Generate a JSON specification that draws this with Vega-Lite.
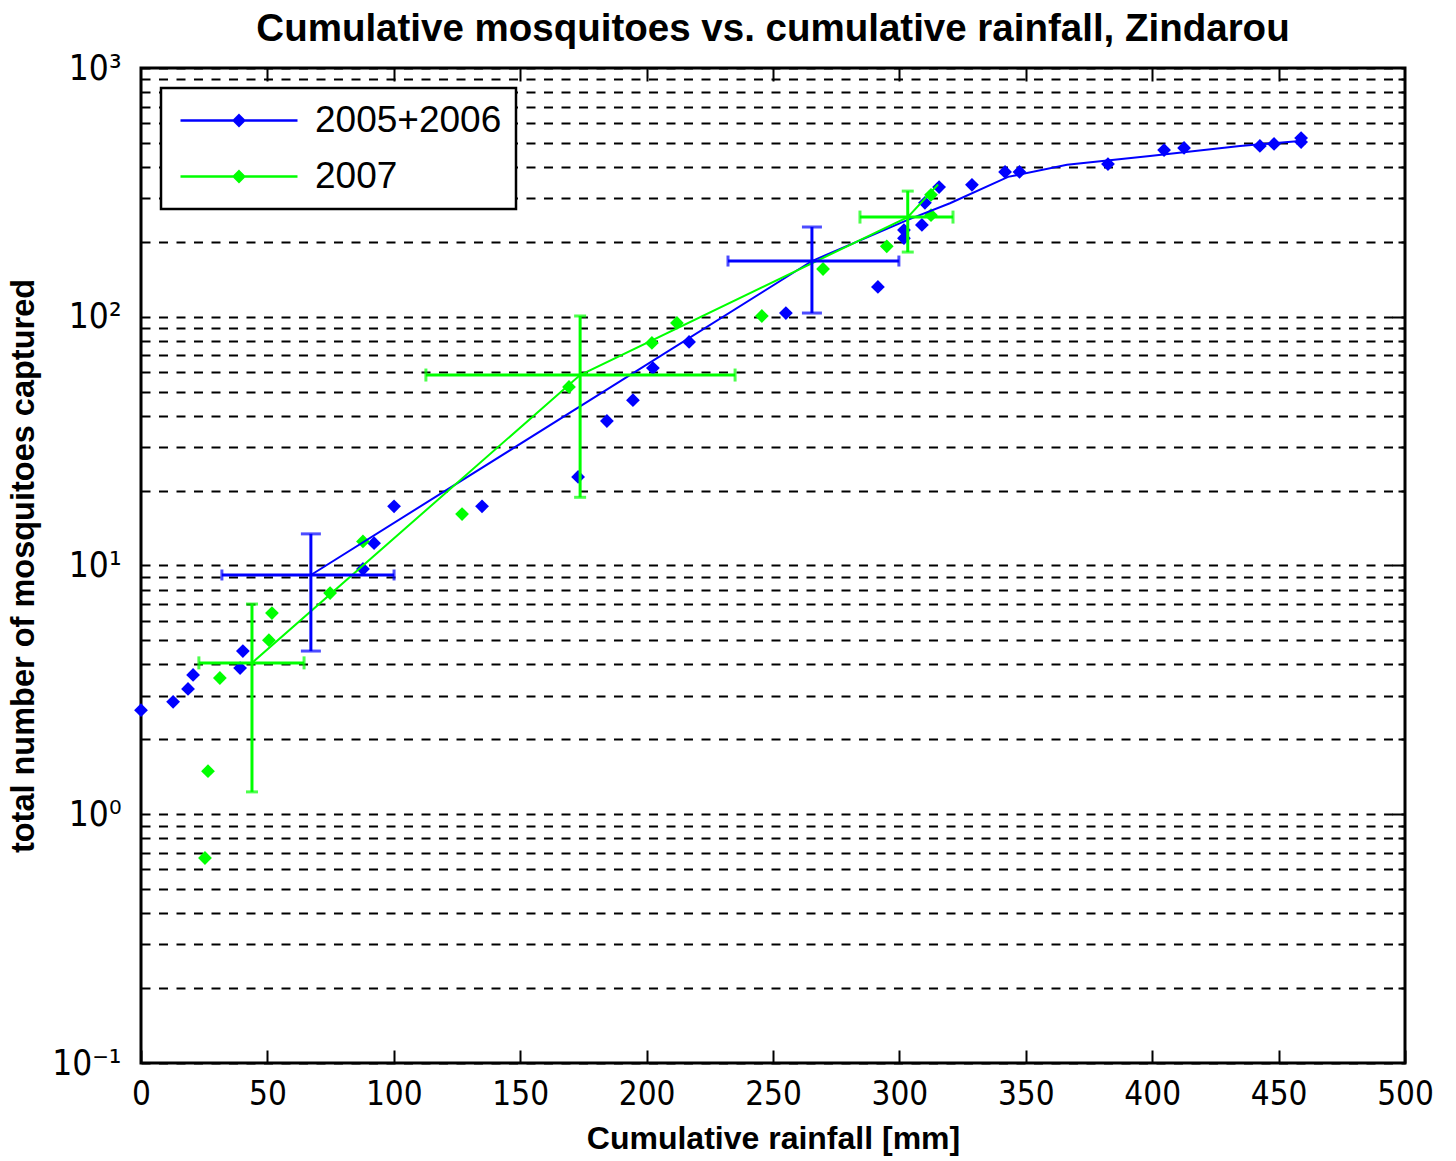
{
  "$schema": "https://vega.github.io/schema/vega-lite/v6.json",
  "autosize": "none",
  "width": 1264,
  "height": 995,
  "padding": {"left": 141, "top": 68, "right": 51, "bottom": 98},
  "background": "white",
  "title": {"text": "Cumulative mosquitoes vs. cumulative rainfall, Zindarou", "font": "Liberation Sans", "fontSize": 38.5, "fontWeight": "bold", "color": "black", "anchor": "middle", "offset": 2},
  "config": {
    "view": {"stroke": "black", "strokeWidth": 3},
    "axis": {"labelColor": "black", "titleColor": "black"},
    "legend": {"strokeWidth": 2.5}
  },
  "datasets": {
    "pts": [
      {"series": "2005+2006", "rain": 0, "n": 2.62},
      {"series": "2005+2006", "rain": 12.7, "n": 2.83},
      {"series": "2005+2006", "rain": 18.6, "n": 3.19},
      {"series": "2005+2006", "rain": 20.6, "n": 3.63},
      {"series": "2005+2006", "rain": 39.2, "n": 3.87},
      {"series": "2005+2006", "rain": 40.3, "n": 4.53},
      {"series": "2005+2006", "rain": 87.8, "n": 9.68},
      {"series": "2005+2006", "rain": 92.2, "n": 12.3},
      {"series": "2005+2006", "rain": 100.1, "n": 17.3},
      {"series": "2005+2006", "rain": 134.9, "n": 17.3},
      {"series": "2005+2006", "rain": 172.9, "n": 22.7},
      {"series": "2005+2006", "rain": 184.3, "n": 38.1},
      {"series": "2005+2006", "rain": 194.6, "n": 46.2},
      {"series": "2005+2006", "rain": 202.5, "n": 62.2},
      {"series": "2005+2006", "rain": 216.8, "n": 79.2},
      {"series": "2005+2006", "rain": 255.1, "n": 103.5},
      {"series": "2005+2006", "rain": 291.5, "n": 131.8},
      {"series": "2005+2006", "rain": 301.8, "n": 223},
      {"series": "2005+2006", "rain": 301.8, "n": 207},
      {"series": "2005+2006", "rain": 308.9, "n": 234},
      {"series": "2005+2006", "rain": 310.1, "n": 287},
      {"series": "2005+2006", "rain": 315.7, "n": 332},
      {"series": "2005+2006", "rain": 328.7, "n": 339},
      {"series": "2005+2006", "rain": 341.8, "n": 382},
      {"series": "2005+2006", "rain": 347.5, "n": 382},
      {"series": "2005+2006", "rain": 382.5, "n": 411},
      {"series": "2005+2006", "rain": 404.7, "n": 468},
      {"series": "2005+2006", "rain": 412.6, "n": 477},
      {"series": "2005+2006", "rain": 442.6, "n": 486},
      {"series": "2005+2006", "rain": 448.2, "n": 495},
      {"series": "2005+2006", "rain": 458.9, "n": 504},
      {"series": "2005+2006", "rain": 458.9, "n": 523},
      {"series": "2007", "rain": 25.3, "n": 0.667},
      {"series": "2007", "rain": 26.5, "n": 1.49},
      {"series": "2007", "rain": 31.2, "n": 3.53},
      {"series": "2007", "rain": 50.6, "n": 5.01},
      {"series": "2007", "rain": 51.8, "n": 6.44},
      {"series": "2007", "rain": 74.8, "n": 7.75},
      {"series": "2007", "rain": 87.8, "n": 12.5},
      {"series": "2007", "rain": 127.0, "n": 16.1},
      {"series": "2007", "rain": 169.3, "n": 52.2},
      {"series": "2007", "rain": 202.1, "n": 78.5},
      {"series": "2007", "rain": 212.0, "n": 94.4},
      {"series": "2007", "rain": 245.6, "n": 100.7},
      {"series": "2007", "rain": 269.8, "n": 155.6},
      {"series": "2007", "rain": 295.0, "n": 192},
      {"series": "2007", "rain": 312.5, "n": 309},
      {"series": "2007", "rain": 312.5, "n": 256}
    ],
    "lines": [
      {"series": "2005+2006", "order": 1, "rain": 67.2, "n": 9.16},
      {"series": "2005+2006", "order": 2, "rain": 265.4, "n": 167.5},
      {"series": "2005+2006", "order": 3, "rain": 303.3, "n": 245},
      {"series": "2005+2006", "order": 4, "rain": 320.0, "n": 286},
      {"series": "2005+2006", "order": 5, "rain": 343.0, "n": 365},
      {"series": "2005+2006", "order": 6, "rain": 366.3, "n": 408},
      {"series": "2005+2006", "order": 7, "rain": 399.1, "n": 443},
      {"series": "2005+2006", "order": 8, "rain": 434.7, "n": 486},
      {"series": "2005+2006", "order": 9, "rain": 458.5, "n": 509},
      {"series": "2007", "order": 1, "rain": 43.9, "n": 4.06},
      {"series": "2007", "order": 2, "rain": 173.7, "n": 58.3},
      {"series": "2007", "order": 3, "rain": 303.3, "n": 251.6},
      {"series": "2007", "order": 4, "rain": 315.3, "n": 340}
    ],
    "errs": [
      {"series": "2005+2006", "rain": 67.2, "rain_lo": 32.0, "rain_hi": 100.1, "n": 9.16, "n_lo": 4.53, "n_hi": 13.4},
      {"series": "2005+2006", "rain": 265.4, "rain_lo": 232.2, "rain_hi": 299.8, "n": 167.5, "n_lo": 103.5, "n_hi": 229.5},
      {"series": "2007", "rain": 43.9, "rain_lo": 22.9, "rain_hi": 64.5, "n": 4.06, "n_lo": 1.23, "n_hi": 7.0},
      {"series": "2007", "rain": 173.7, "rain_lo": 112.7, "rain_hi": 235.0, "n": 58.3, "n_lo": 18.8, "n_hi": 100.7},
      {"series": "2007", "rain": 303.3, "rain_lo": 284.4, "rain_hi": 321.2, "n": 251.6, "n_lo": 182, "n_hi": 320}
    ]
  },
  "layer": [
    {
      "data": {"name": "pts"},
      "mark": {"type": "point", "shape": "diamond", "filled": true, "size": 190, "opacity": 1},
      "encoding": {
        "x": {"field": "rain", "type": "quantitative", "scale": {"domain": [0, 500], "nice": false, "zero": false},
          "axis": {"orient": "bottom", "title": "Cumulative rainfall [mm]", "values": [0, 50, 100, 150, 200, 250, 300, 350, 400, 450, 500],
            "grid": false, "domain": false, "ticks": true, "tickSize": -13, "tickWidth": 2, "tickColor": "black",
            "labelFont": "Liberation Sans Narrow, DejaVu Sans Condensed, Liberation Sans", "labelFontSize": 33, "labelPadding": 28,
            "labelFlush": false, "titleFont": "Liberation Sans", "titleFontSize": 32, "titleFontWeight": "bold", "titlePadding": 12}},
        "y": {"field": "n", "type": "quantitative", "scale": {"type": "log", "domain": [0.1, 1000], "nice": false},
          "axis": {"orient": "left", "title": "total number of mosquitoes captured",
            "values": [0.1, 0.2, 0.3, 0.4, 0.5, 0.6, 0.7, 0.8, 0.9, 1, 2, 3, 4, 5, 6, 7, 8, 9, 10, 20, 30, 40, 50, 60, 70, 80, 90, 100, 200, 300, 400, 500, 600, 700, 800, 900, 1000],
            "labelExpr": "datum.value==1000?'10³':datum.value==100?'10²':datum.value==10?'10¹':datum.value==1?'10⁰':datum.value==0.1?'10⁻¹':''",
            "grid": true, "gridColor": "black", "gridWidth": 2, "gridDash": [9, 8.5], "gridOpacity": 1,
            "domain": false, "ticks": false, "labelPadding": 20, "labelFlush": false,
            "labelFont": "Liberation Sans Narrow, DejaVu Sans Condensed, Liberation Sans", "labelFontSize": 35,
            "titleFont": "Liberation Sans", "titleFontSize": 32.5, "titleFontWeight": "bold", "titlePadding": 11}},
        "color": {"field": "series", "type": "nominal", "scale": {"domain": ["2005+2006", "2007"], "range": ["#0000ff", "#00ff00"]}}
      }
    },
    {
      "data": {"name": "lines"},
      "mark": {"type": "line", "strokeWidth": 2},
      "encoding": {
        "x": {"field": "rain", "type": "quantitative",
          "axis": {"orient": "top", "title": null, "labels": false, "grid": false, "domain": false, "values": [50, 100, 150, 200, 250, 300, 350, 400, 450],
            "ticks": true, "tickSize": -13, "tickWidth": 2, "tickColor": "black"}},
        "y": {"field": "n", "type": "quantitative",
          "axis": {"orient": "right", "title": null, "labels": false, "grid": false, "domain": false,
            "values": [0.2, 0.3, 0.4, 0.5, 0.6, 0.7, 0.8, 0.9, 1, 2, 3, 4, 5, 6, 7, 8, 9, 10, 20, 30, 40, 50, 60, 70, 80, 90, 100, 200, 300, 400, 500, 600, 700, 800, 900],
            "ticks": true, "tickColor": "black", "tickWidth": 2,
            "tickSize": {"condition": {"test": "datum.value==1||datum.value==10||datum.value==100", "value": -13}, "value": -7}}},
        "order": {"field": "order", "type": "quantitative"},
        "color": {"field": "series", "type": "nominal",
          "legend": {"title": null, "orient": "top-left", "offset": 20, "padding": 14, "rowPadding": 18,
            "strokeColor": "black", "fillColor": "white",
            "symbolType": "M-1,0H8M3.5,-0.4L3.9,0L3.5,0.4L3.1,0Z", "symbolSize": 676, "symbolStrokeWidth": 2.5,
            "labelOffset": 103, "labelFont": "Liberation Sans", "labelFontSize": 37, "labelColor": "black", "labelLimit": 400}}
      }
    },
    {
      "data": {"name": "errs"},
      "mark": {"type": "rule", "strokeWidth": 3},
      "encoding": {
        "x": {"field": "rain", "type": "quantitative", "axis": null},
        "y": {"field": "n_lo", "type": "quantitative", "axis": null},
        "y2": {"field": "n_hi"},
        "color": {"field": "series", "type": "nominal"}
      }
    },
    {
      "data": {"name": "errs"},
      "mark": {"type": "rule", "strokeWidth": 3},
      "encoding": {
        "x": {"field": "rain_lo", "type": "quantitative", "axis": null},
        "x2": {"field": "rain_hi"},
        "y": {"field": "n", "type": "quantitative", "axis": null},
        "color": {"field": "series", "type": "nominal"}
      }
    },
    {
      "data": {"name": "errs"},
      "transform": [{"filter": "datum.series == '2005+2006'"}],
      "layer": [
        {"mark": {"type": "tick", "orient": "horizontal", "thickness": 3, "size": 20},
         "encoding": {"x": {"field": "rain", "type": "quantitative", "axis": null}, "y": {"field": "n_lo", "type": "quantitative", "axis": null}, "color": {"field": "series", "type": "nominal"}}},
        {"mark": {"type": "tick", "orient": "horizontal", "thickness": 3, "size": 20},
         "encoding": {"x": {"field": "rain", "type": "quantitative", "axis": null}, "y": {"field": "n_hi", "type": "quantitative", "axis": null}, "color": {"field": "series", "type": "nominal"}}},
        {"mark": {"type": "tick", "orient": "vertical", "thickness": 3, "size": 11},
         "encoding": {"x": {"field": "rain_lo", "type": "quantitative", "axis": null}, "y": {"field": "n", "type": "quantitative", "axis": null}, "color": {"field": "series", "type": "nominal"}}},
        {"mark": {"type": "tick", "orient": "vertical", "thickness": 3, "size": 11},
         "encoding": {"x": {"field": "rain_hi", "type": "quantitative", "axis": null}, "y": {"field": "n", "type": "quantitative", "axis": null}, "color": {"field": "series", "type": "nominal"}}}
      ]
    },
    {
      "data": {"name": "errs"},
      "transform": [{"filter": "datum.series == '2007'"}],
      "layer": [
        {"mark": {"type": "tick", "orient": "horizontal", "thickness": 3, "size": 12},
         "encoding": {"x": {"field": "rain", "type": "quantitative", "axis": null}, "y": {"field": "n_lo", "type": "quantitative", "axis": null}, "color": {"field": "series", "type": "nominal"}}},
        {"mark": {"type": "tick", "orient": "horizontal", "thickness": 3, "size": 12},
         "encoding": {"x": {"field": "rain", "type": "quantitative", "axis": null}, "y": {"field": "n_hi", "type": "quantitative", "axis": null}, "color": {"field": "series", "type": "nominal"}}},
        {"mark": {"type": "tick", "orient": "vertical", "thickness": 3, "size": 13},
         "encoding": {"x": {"field": "rain_lo", "type": "quantitative", "axis": null}, "y": {"field": "n", "type": "quantitative", "axis": null}, "color": {"field": "series", "type": "nominal"}}},
        {"mark": {"type": "tick", "orient": "vertical", "thickness": 3, "size": 13},
         "encoding": {"x": {"field": "rain_hi", "type": "quantitative", "axis": null}, "y": {"field": "n", "type": "quantitative", "axis": null}, "color": {"field": "series", "type": "nominal"}}}
      ]
    }
  ]
}
